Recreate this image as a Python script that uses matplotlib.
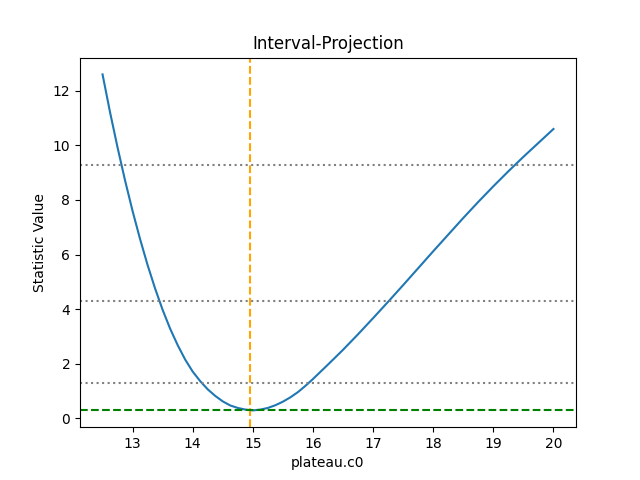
import matplotlib
matplotlib.use("Agg")
import matplotlib.pyplot as plt

param_values = [12.5, 12.625, 12.75, 12.875, 13.0, 13.125, 13.25, 13.375, 13.5, 13.625,
                13.75, 13.875, 14.0, 14.125, 14.25, 14.375, 14.5, 14.625, 14.75, 14.875,
                15.0, 15.125, 15.25, 15.375, 15.5, 15.625, 15.75, 15.875, 16.0, 16.25,
                16.5, 16.75, 17.0, 17.25, 17.5, 17.75, 18.0, 18.25, 18.5, 18.75,
                19.0, 19.25, 19.5, 19.75, 20.0]
statistic = [12.6, 11.21, 9.92, 8.71, 7.59, 6.56, 5.61, 4.75, 3.97, 3.28,
             2.68, 2.15, 1.71, 1.36, 1.06, 0.82, 0.62, 0.47, 0.38, 0.32,
             0.29, 0.32, 0.38, 0.48, 0.61, 0.77, 0.96, 1.19, 1.44, 1.97,
             2.51, 3.08, 3.67, 4.27, 4.88, 5.50, 6.12, 6.73, 7.34, 7.93,
             8.50, 9.05, 9.58, 10.09, 10.6]
best_fit = 14.96
min_stat = 0.29
thresholds = [1.0, 4.0, 9.0]

fig, ax = plt.subplots(figsize=(6.4, 4.8), dpi=100)
ax.plot(param_values, statistic, color='tab:blue')
ax.axvline(best_fit, color='orange', linestyle='--')
ax.axhline(min_stat, color='green', linestyle='--')
for t in thresholds:
    ax.axhline(min_stat + t, color='gray', linestyle=':')
ax.set_title('Interval-Projection')
ax.set_xlabel('plateau.c0')
ax.set_ylabel('Statistic Value')
fig.savefig('out.png')
